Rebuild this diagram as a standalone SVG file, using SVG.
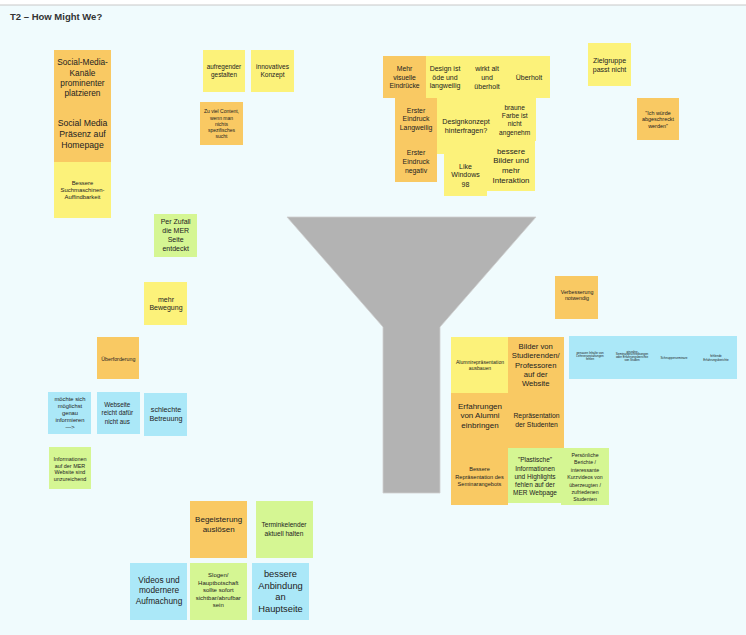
<svg xmlns="http://www.w3.org/2000/svg" width="746" height="635" viewBox="0 0 746 635">
<style>
.o{fill:#f9c963}.y{fill:#fcf27a}.g{fill:#d5f693}.b{fill:#abe8f8}
text{font-family:"Liberation Sans",Arial,sans-serif;fill:#222;text-anchor:middle}
.title{font-weight:bold;fill:#333;text-anchor:start}
</style>
<rect x="0" y="0" width="746" height="635" fill="#ffffff"/>
<rect x="0" y="5" width="746" height="630" fill="#f0fbfd"/>
<line x1="0" y1="5" x2="746" y2="5" stroke="#c8c8c8" stroke-width="1"/>
<text class="title" x="10" y="20" font-size="9.5">T2 – How Might We?</text>
<g id="funnel"><polygon points="287,217 536,217 440,327 440,493 383,493 383,327" fill="#b3b3b3" stroke="#cfcfcf" stroke-width="0.8"/></g>
<g id="connectors"></g>
<g id="n1"><rect class="o" x="54" y="50" width="57" height="56"/><text font-size="8.3"><tspan x="82.5" y="65.4">Social-Media-</tspan><tspan x="82.5" y="75.5">Kanäle</tspan><tspan x="82.5" y="86">prominenter</tspan><tspan x="82.5" y="96">platzieren</tspan></text></g>
<g id="n2"><rect class="o" x="54" y="106" width="57" height="56"/><text font-size="8.7"><tspan x="82.5" y="126.2">Social Media</tspan><tspan x="82.5" y="136.9">Präsenz auf</tspan><tspan x="82.5" y="147.9">Homepage</tspan></text></g>
<g id="n3"><rect class="y" x="54" y="162" width="57" height="56"/><text font-size="5.9"><tspan x="82.5" y="184.6">Bessere</tspan><tspan x="82.5" y="191.9">Suchmaschinen-</tspan><tspan x="82.5" y="199.2">Auffindbarkeit</tspan></text></g>
<g id="n4"><rect class="y" x="203" y="50" width="42" height="42"/><text font-size="6.4"><tspan x="224" y="69.4">aufregender</tspan><tspan x="224" y="76.6">gestalten</tspan></text></g>
<g id="n5"><rect class="y" x="251" y="50" width="43" height="42"/><text font-size="6.6"><tspan x="272.5" y="69.4">innovatives</tspan><tspan x="272.5" y="76.6">Konzept</tspan></text></g>
<g id="n6"><rect class="o" x="200" y="102" width="43" height="43"/><text font-size="5"><tspan x="221.5" y="113.4">Zu viel Content,</tspan><tspan x="221.5" y="119.6">wenn man</tspan><tspan x="221.5" y="125.7">nichts</tspan><tspan x="221.5" y="131.9">spezifisches</tspan><tspan x="221.5" y="138.1">sucht</tspan></text></g>
<g id="n8"><rect class="y" x="424" y="56" width="44" height="42"/><text font-size="7"><tspan x="445" y="71.3">Design ist</tspan><tspan x="445" y="79.6">öde und</tspan><tspan x="445" y="88">langweilig</tspan></text></g>
<g id="n7"><rect class="o" x="383" y="56" width="43" height="42"/><text font-size="6.8"><tspan x="404.5" y="71.2">Mehr</tspan><tspan x="404.5" y="79.5">visuelle</tspan><tspan x="404.5" y="87.9">Eindrücke</tspan></text></g>
<g id="n9"><rect class="y" x="466" y="56" width="42" height="42"/><text font-size="7"><tspan x="487" y="71.3">wirkt alt</tspan><tspan x="487" y="80">und</tspan><tspan x="487" y="88.6">überholt</tspan></text></g>
<g id="n10"><rect class="y" x="508" y="56" width="42" height="42"/><text font-size="7" x="529" y="79.6">Überholt</text></g>
<g id="n13"><rect class="y" x="437" y="98" width="56" height="56"/><text font-size="7.2"><tspan x="466" y="124.1">Designkonzept</tspan><tspan x="466" y="132.7">hinterfragen?</tspan></text></g>
<g id="n11"><rect class="o" x="395" y="98" width="42" height="43"/><text font-size="6.9"><tspan x="416" y="113">Erster</tspan><tspan x="416" y="121.3">Eindruck</tspan><tspan x="416" y="130">Langweilig</tspan></text></g>
<g id="n12"><rect class="o" x="395" y="141" width="42" height="41"/><text font-size="6.9"><tspan x="416" y="155">Erster</tspan><tspan x="416" y="163.6">Eindruck</tspan><tspan x="416" y="172.6">negativ</tspan></text></g>
<g id="n14"><rect class="y" x="493" y="98" width="43" height="43"/><text font-size="6.6"><tspan x="514.7" y="109.5">braune</tspan><tspan x="514.7" y="117.9">Farbe ist</tspan><tspan x="514.7" y="126.2">nicht</tspan><tspan x="514.7" y="134.5">angenehm</tspan></text></g>
<g id="n15"><rect class="y" x="444" y="153" width="43" height="43"/><text font-size="7"><tspan x="465.5" y="169">Like</tspan><tspan x="465.5" y="177.3">Windows</tspan><tspan x="465.5" y="186.6">98</tspan></text></g>
<g id="n16"><rect class="y" x="487" y="141" width="48" height="50"/><text font-size="7.9"><tspan x="511" y="153.6">bessere</tspan><tspan x="511" y="162.6">Bilder und</tspan><tspan x="511" y="172.6">mehr</tspan><tspan x="511" y="182.6">Interaktion</tspan></text></g>
<g id="n17"><rect class="y" x="588" y="43" width="43" height="43"/><text font-size="7"><tspan x="609.5" y="63">Zielgruppe</tspan><tspan x="609.5" y="71.6">passt nicht</tspan></text></g>
<g id="n18"><rect class="o" x="637" y="98" width="42" height="42"/><text font-size="5.4"><tspan x="658" y="114.5">"Ich würde</tspan><tspan x="658" y="121.3">abgeschreckt</tspan><tspan x="658" y="128.1">werden"</tspan></text></g>
<g id="n19"><rect class="g" x="154" y="214" width="43" height="43"/><text font-size="7"><tspan x="175.7" y="224">Per Zufall</tspan><tspan x="175.7" y="233.3">die MER</tspan><tspan x="175.7" y="242.3">Seite</tspan><tspan x="175.7" y="250.6">entdeckt</tspan></text></g>
<g id="n20"><rect class="y" x="144" y="282" width="43" height="43"/><text font-size="7"><tspan x="166" y="302.3">mehr</tspan><tspan x="166" y="310">Bewegung</tspan></text></g>
<g id="n21"><rect class="o" x="97" y="337" width="42" height="42"/><text font-size="5.3" x="118.3" y="360.8">Überforderung</text></g>
<g id="n22"><rect class="b" x="48" y="392" width="43" height="42"/><text font-size="5.8"><tspan x="70" y="400.9">möchte sich</tspan><tspan x="70" y="407.9">möglichst</tspan><tspan x="70" y="414.9">genau</tspan><tspan x="70" y="421.9">informieren</tspan><tspan x="70" y="428.9">—&gt;</tspan></text></g>
<g id="n23"><rect class="b" x="97" y="392" width="43" height="42"/><text font-size="6.3"><tspan x="117.3" y="407.1">Webseite</tspan><tspan x="117.3" y="415.4">reicht dafür</tspan><tspan x="117.3" y="423.8">nicht aus</tspan></text></g>
<g id="n24"><rect class="b" x="144" y="393" width="43" height="43"/><text font-size="7.2"><tspan x="166" y="411.7">schlechte</tspan><tspan x="166" y="420.7">Betreuung</tspan></text></g>
<g id="n25"><rect class="g" x="49" y="447" width="42" height="42"/><text font-size="5.4"><tspan x="70" y="460.8">Informationen</tspan><tspan x="70" y="467.5">auf der MER</tspan><tspan x="70" y="474.1">Website sind</tspan><tspan x="70" y="480.8">unzureichend</tspan></text></g>
<g id="n26"><rect class="o" x="555" y="276" width="43" height="43"/><text font-size="5.3"><tspan x="577" y="293.5">Verbesserung</tspan><tspan x="577" y="300.1">notwendig</tspan></text></g>
<g id="n27"><rect class="y" x="451" y="337" width="57" height="56"/><text font-size="5.1"><tspan x="480" y="364">Alumnirepräsentation</tspan><tspan x="480" y="370">ausbauen</tspan></text></g>
<g id="n28"><rect class="o" x="508" y="337" width="56" height="56"/><text font-size="7.7"><tspan x="535.7" y="348.5">Bilder von</tspan><tspan x="535.7" y="358.2">Studierenden/</tspan><tspan x="535.7" y="367.5">Professoren</tspan><tspan x="535.7" y="376.8">auf der</tspan><tspan x="535.7" y="386.2">Website</tspan></text></g>
<g id="n29a"><rect class="b" x="569" y="336" width="42" height="43"/><text font-size="3"><tspan x="590" y="354.3">genauen Inhalte von</tspan><tspan x="590" y="357.3">Lehrveranstaltungen</tspan><tspan x="590" y="360.3">fehlen</tspan></text></g>
<g id="n29b"><rect class="b" x="611" y="336" width="42" height="43"/><text font-size="3"><tspan x="632" y="352.7">einzelne</tspan><tspan x="632" y="355.3">Seminarbeschreibungen</tspan><tspan x="632" y="357.9">oder Erfahrungsberichte</tspan><tspan x="632" y="360.5">von Studen</tspan></text></g>
<g id="n29c"><rect class="b" x="653" y="336" width="42" height="43"/><text font-size="3" x="674" y="359.3">Schnupperseminare</text></g>
<g id="n29d"><rect class="b" x="695" y="336" width="42" height="43"/><text font-size="3"><tspan x="716" y="356.7">fehlende</tspan><tspan x="716" y="361">Erfahrungsberichte</tspan></text></g>
<g id="n30"><rect class="o" x="451" y="393" width="57" height="55"/><text font-size="8"><tspan x="480" y="408.6">Erfahrungen</tspan><tspan x="480" y="417.9">von Alumni</tspan><tspan x="480" y="427.9">einbringen</tspan></text></g>
<g id="n31"><rect class="o" x="508" y="393" width="56" height="55"/><text font-size="6.8"><tspan x="536.5" y="418.2">Repräsentation</tspan><tspan x="536.5" y="427.2">der Studenten</tspan></text></g>
<g id="n32"><rect class="o" x="451" y="448" width="57" height="57"/><text font-size="5.6"><tspan x="479.5" y="471.1">Bessere</tspan><tspan x="479.5" y="478.5">Repräsentation des</tspan><tspan x="479.5" y="485.8">Seminarangebots</tspan></text></g>
<g id="n33"><rect class="g" x="508" y="448" width="53" height="55"/><text font-size="6.5"><tspan x="535" y="462.1">"Plastische"</tspan><tspan x="535" y="471.4">Informationen</tspan><tspan x="535" y="479.4">und Highlights</tspan><tspan x="535" y="487.4">fehlen auf der</tspan><tspan x="535" y="494.8">MER Webpage</tspan></text></g>
<g id="n34"><rect class="g" x="561" y="448" width="48" height="57"/><text font-size="5.2"><tspan x="585" y="456.7">Persönliche</tspan><tspan x="585" y="464.4">Berichte /</tspan><tspan x="585" y="471.7">interessante</tspan><tspan x="585" y="479.4">Kurzvideos von</tspan><tspan x="585" y="486.7">überzeugten /</tspan><tspan x="585" y="494.4">zufriedenen</tspan><tspan x="585" y="501">Studenten</tspan></text></g>
<g id="n35"><rect class="o" x="190" y="501" width="57" height="57"/><text font-size="8"><tspan x="218.7" y="521.9">Begeisterung</tspan><tspan x="218.7" y="531.9">auslösen</tspan></text></g>
<g id="n36"><rect class="g" x="256" y="501" width="57" height="57"/><text font-size="6.6"><tspan x="284" y="526.5">Terminkelender</tspan><tspan x="284" y="535.5">aktuell halten</tspan></text></g>
<g id="n37"><rect class="b" x="130" y="563" width="57" height="57"/><text font-size="8.3"><tspan x="159" y="583.4">Videos und</tspan><tspan x="159" y="593.4">modernere</tspan><tspan x="159" y="604.4">Aufmachung</tspan></text></g>
<g id="n38"><rect class="g" x="190" y="563" width="57" height="57"/><text font-size="6"><tspan x="218.3" y="577">Slogen/</tspan><tspan x="218.3" y="584.7">Hauptbotschaft</tspan><tspan x="218.3" y="592">sollte sofort</tspan><tspan x="218.3" y="599.7">sichtbar/abrufbar</tspan><tspan x="218.3" y="607.3">sein</tspan></text></g>
<g id="n39"><rect class="b" x="252" y="563" width="57" height="57"/><text font-size="9.3"><tspan x="280.5" y="577.1">bessere</tspan><tspan x="280.5" y="589.1">Anbindung</tspan><tspan x="280.5" y="600.4">an</tspan><tspan x="280.5" y="611.8">Hauptseite</tspan></text></g>
</svg>
